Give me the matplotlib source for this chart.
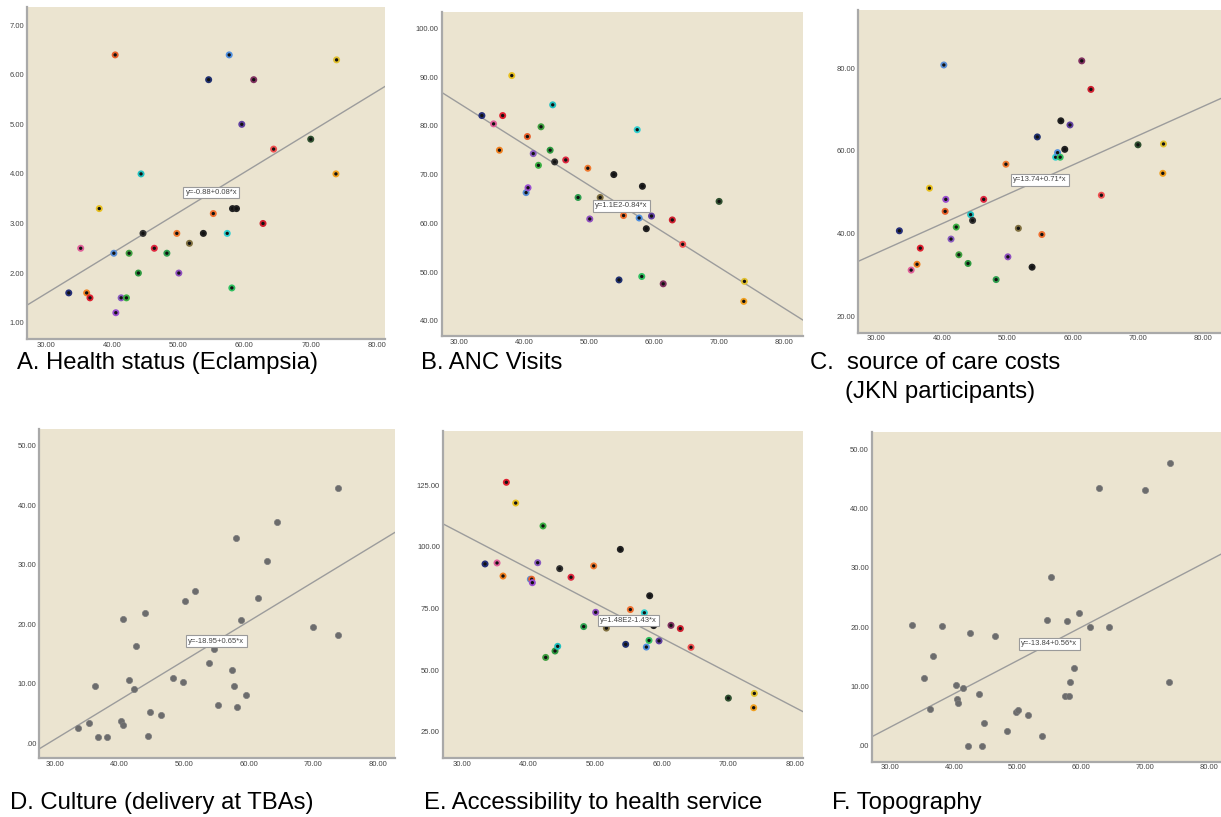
import matplotlib
matplotlib.use("Agg")
import matplotlib.pyplot as plt
import numpy as np

# ---------- data ----------
x_pct = [33.5, 35.3, 36.2, 36.7, 38.1, 40.3, 40.5, 40.6, 41.4, 42.2, 42.6, 44.0,
         44.4, 44.7, 46.4, 48.3, 49.8, 50.1, 51.7, 53.8, 54.6, 55.3, 57.4, 57.7,
         58.1, 58.2, 58.8, 59.6, 61.4, 62.8, 64.4, 70.0, 73.8, 73.9]

point_colors = ["#26307a", "#e0609a", "#f08020", "#e02030", "#e8c020", "#5b8fd6",
                "#e8602a", "#9b4fd0", "#8a5cc0", "#3cb043", "#40a040", "#2e9a40",
                "#20c0c0", "#333333", "#e02840", "#30a050", "#f07a30", "#9050c0",
                "#807040", "#222222", "#203070", "#f07030", "#30d0d0", "#5090e0",
                "#30c060", "#222222", "#222222", "#6040a0", "#803060", "#d02030",
                "#f05050", "#305030", "#f0a020", "#e0c030"]

eclampsia = [1.6, 2.5, 1.6, 1.5, 3.3, 2.4, 6.4, 1.2, 1.5, 1.5, 2.4, 2.0,
             4.0, 2.8, 2.5, 2.4, 2.8, 2.0, 2.6, 2.8, 5.9, 3.2, 2.8, 6.4,
             1.7, 3.3, 3.3, 5.0, 5.9, 3.0, 4.5, 4.7, 4.0, 6.3]
anc_visits = [82.1, 80.4, 75.0, 82.1, 90.3, 66.3, 77.8, 67.3, 74.3, 71.9, 79.8, 75.0,
              84.3, 72.6, 73.0, 65.3, 71.3, 60.9, 65.3, 70.0, 48.4, 61.6, 79.2, 61.1,
              49.1, 67.6, 58.9, 61.5, 47.6, 60.7, 55.7, 64.5, 44.0, 48.1]
jkn = [40.7, 31.2, 32.6, 36.5, 51.0, 80.8, 45.4, 48.3, 38.7, 41.6, 34.9, 32.8,
       44.6, 43.2, 48.3, 28.9, 56.8, 34.4, 41.3, 31.9, 63.4, 39.8, 58.5, 59.6,
       58.5, 67.3, 60.4, 66.3, 81.8, 74.9, 49.3, 61.5, 54.6, 61.7]
tba = [2.6, 3.4, 9.6, 1.0, 1.1, 3.8, 20.9, 3.1, 10.7, 9.2, 16.3, 22.0,
       1.2, 5.2, 4.7, 11.0, 10.3, 23.9, 25.6, 13.5, 15.8, 6.4, 12.4, 9.7,
       34.6, 6.1, 20.7, 8.1, 24.4, 30.7, 37.2, 19.5, 18.2, 43.0]
access = [93.0, 93.4, 88.1, 126.1, 117.7, 86.8, 86.8, 85.4, 93.5, 108.4, 55.1, 57.7,
          59.6, 91.1, 87.6, 67.6, 92.2, 73.4, 67.0, 98.9, 60.4, 74.5, 73.2, 59.3,
          62.0, 80.1, 68.0, 61.8, 68.1, 66.8, 59.2, 38.6, 34.7, 40.5]
topo = [20.4, 11.4, 6.2, 15.2, 20.2, 10.2, 7.9, 7.3, 9.8, 0.0, 19.0, 8.7,
        0.0, 3.8, 18.5, 2.6, 5.8, 6.1, 5.3, 1.6, 21.2, 28.4, 8.4, 21.0,
        8.4, 10.7, 13.1, 22.4, 20.1, 43.5, 20.1, 43.1, 10.7, 47.7]

# fitted lines: intercept, slope, label
fits = {
    "A": (-0.87, 0.0817, "y=-0.88+0.08*x"),
    "B": (109.8, -0.84, "y=1.1E2-0.84*x"),
    "C": (14.0, 0.71, "y=13.74+0.71*x"),
    "D": (-19.1, 0.66, "y=-18.95+0.65*x"),
    "E": (147.6, -1.41, "y=1.48E2-1.43*x"),
    "F": (-13.7, 0.562, "y=-13.84+0.56*x"),
}

x_ticks = [30, 40, 50, 60, 70, 80]

W, H = 1221, 817
BG = "#ebe4d0"
TICK_FONT = ["Liberation Sans Narrow", "Liberation Sans", "DejaVu Sans"]


def fmt(v):
    return ".00" if v == 0 else f"{v:.2f}"


def make_axes(fig, left, right, top, bottom):
    return fig.add_axes([left / W, 1 - bottom / H, (right - left) / W, (bottom - top) / H])


def panel(ax, y, key, xlim, ylim, yticks, colored):
    ax.set_facecolor(BG)
    for s in ["top", "right"]:
        ax.spines[s].set_visible(False)
    for s in ["left", "bottom"]:
        ax.spines[s].set_color("#a9a9a9")
        ax.spines[s].set_linewidth(1.6)

    a, b, label = fits[key]
    xs = np.array(xlim)
    ax.plot(xs, a + b * xs, color="#9c9c9c", lw=1.0, zorder=2)

    if colored:
        ax.scatter(x_pct, y, s=14, facecolors="#111111", edgecolors=point_colors,
                   linewidths=1.3, zorder=3)
    else:
        ax.scatter(x_pct, y, s=20, facecolors="#6c6c6c", edgecolors="#7c7c7c",
                   linewidths=0.5, zorder=3)

    ax.text(55, a + b * 55, label, ha="center", va="center", fontsize=5.5,
            family=TICK_FONT, color="#444444", zorder=5,
            bbox=dict(boxstyle="square,pad=0.3", fc="white", ec="#9a9a9a", lw=0.8))

    ax.set_xlim(*xlim)
    ax.set_ylim(*ylim)
    ax.set_xticks(x_ticks)
    ax.set_xticklabels([fmt(v) for v in x_ticks])
    ax.set_yticks(yticks)
    ax.set_yticklabels([fmt(v) for v in yticks])
    ax.tick_params(length=0, labelsize=5.5, labelcolor="#444444", pad=2)
    for t in ax.get_xticklabels() + ax.get_yticklabels():
        t.set_family(TICK_FONT)


fig = plt.figure(figsize=(W / 100, H / 100), dpi=100)

axA = make_axes(fig, 27, 385, 7.3, 339)
panel(axA, eclampsia, "A", (27.2, 81.2), (0.67, 7.36), [1, 2, 3, 4, 5, 6, 7], True)

axB = make_axes(fig, 441.6, 802.6, 11.7, 336)
panel(axB, anc_visits, "B", (27.3, 82.85), (36.9, 103.4), [40, 50, 60, 70, 80, 90, 100], True)

axC = make_axes(fig, 858, 1221, 10, 332.5)
panel(axC, jkn, "C", (27.17, 82.7), (16.1, 94.1), [20, 40, 60, 80], True)

axD = make_axes(fig, 39.3, 395, 429.3, 758.3)
panel(axD, tba, "D", (27.57, 82.7), (-2.5, 52.8), [0, 10, 20, 30, 40, 50], False)

axE = make_axes(fig, 442.7, 803, 431, 758.3)
panel(axE, access, "E", (27.15, 81.2), (14.2, 146.9), [25, 50, 75, 100, 125], True)

axF = make_axes(fig, 871.7, 1221, 431.7, 761.7)
panel(axF, topo, "F", (27.13, 81.9), (-2.65, 52.97), [0, 10, 20, 30, 40, 50], False)

# panel captions
LABEL_FONT = ["Liberation Sans", "DejaVu Sans"]
captions = [
    (17, 369, "A. Health status (Eclampsia)"),
    (421, 369, "B. ANC Visits"),
    (810, 369, "C.  source of care costs"),
    (845, 398, "(JKN participants)"),
    (10, 809, "D. Culture (delivery at TBAs)"),
    (424, 809, "E. Accessibility to health service"),
    (832, 809, "F. Topography"),
]
for px, py, s in captions:
    fig.text(px / W, 1 - py / H, s, ha="left", va="baseline", fontsize=17.2,
             family=LABEL_FONT, color="black")

fig.savefig("out.png", dpi=100, facecolor="white")
